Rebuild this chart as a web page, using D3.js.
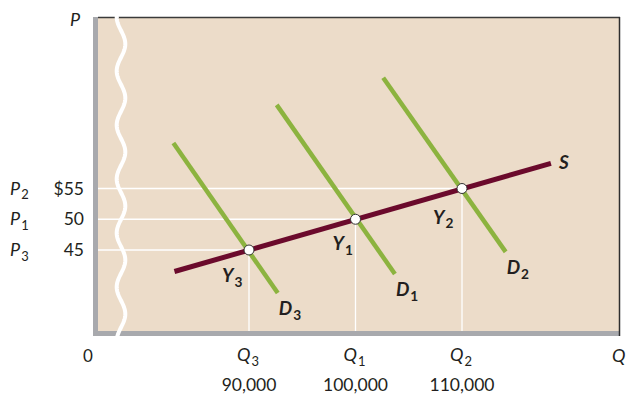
<!DOCTYPE html>
<html><head><meta charset="utf-8">
<script src="https://cdn.jsdelivr.net/npm/d3@7"></script>
<style>body{margin:0;background:#fff;}svg{display:block;font-family:Lato,"Open Sans",sans-serif;}</style>
</head><body><svg id="c" width="626" height="396"></svg>
<script>
// Equilibrium points
const eqNames = ["Y3","Y1","Y2"];
const eqQ = [90000, 100000, 110000];
const eqP = [45, 50, 55];
const qLabels = ["Q3","Q1","Q2"];
const qTickText = ["90,000","100,000","110,000"];
const pLabels = ["P3","P1","P2"];
const pTickText = ["45","50","$55"];
// Supply curve endpoints [Q, P]
const supplyQ = [83000, 118350];
const supplyP = [41.5, 59.1];
// Demand curves endpoints
const demandNames = ["D3","D1","D2"];
const demandQ = [[82900, 92700],[92600, 103700],[102600, 114100]];
const demandP = [[62.4, 38.0],[68.6, 41.1],[73.0, 44.7]];

const svg = d3.select("#c");
const L = 98, R = 620, T = 17, B = 331;
const x = d3.scaleLinear().domain([90000,110000]).range([249,462]);
const y = d3.scaleLinear().domain([45,55]).range([250,188.5]);

// panel
svg.append("rect").attr("x",L).attr("y",T).attr("width",R-L).attr("height",B-T).attr("fill","#ecdcc9");
svg.append("rect").attr("x",93).attr("y",T).attr("width",5).attr("height",B-T+5).attr("fill","#a8a9ad");
svg.append("rect").attr("x",93).attr("y",B).attr("width",R-93).attr("height",5).attr("fill","#a8a9ad");
svg.append("line").attr("x1",L).attr("x2",R).attr("y1",T+0.5).attr("y2",T+0.5).attr("stroke","#3a3a3a").attr("stroke-width",1.3);
svg.append("line").attr("x1",R-0.5).attr("x2",R-0.5).attr("y1",T).attr("y2",B+5).attr("stroke","#2e2e2e").attr("stroke-width",1.5);

// gridlines
eqQ.forEach((q,i)=>{
  svg.append("line").attr("x1",L).attr("x2",x(q)).attr("y1",y(eqP[i])).attr("y2",y(eqP[i])).attr("stroke","#fff").attr("stroke-width",1.3);
  svg.append("line").attr("x1",x(q)).attr("x2",x(q)).attr("y1",y(eqP[i])).attr("y2",B).attr("stroke","#fff").attr("stroke-width",1.3);
});

// demand lines
const line = d3.line().x(d=>x(d[0])).y(d=>y(d[1]));
demandQ.forEach((qs,i)=>{
  svg.append("path").attr("d",line(qs.map((q,j)=>[q,demandP[i][j]]))).attr("stroke","#8cb33f").attr("stroke-width",4.5).attr("fill","none");
});
// supply
svg.append("path").attr("d",line(supplyQ.map((q,j)=>[q,supplyP[j]]))).attr("stroke","#6b0a2c").attr("stroke-width",5).attr("fill","none");

// points
eqQ.forEach((q,i)=>{
  svg.append("circle").attr("cx",x(q)).attr("cy",y(eqP[i])).attr("r",5).attr("fill","#fff").attr("stroke","#333").attr("stroke-width",1);
});

// wavy break
const wave = [];
for(let yy=T-2; yy<=B+7; yy+=1){ wave.push([121 - 4.3*Math.cos((yy-T)/27*Math.PI), yy]); }
svg.append("path").attr("d",d3.line()(wave)).attr("stroke","#fff").attr("stroke-width",4).attr("fill","none");

// text helper with subscript
function sub(g, xx, yy, main, s, opts){
  const sz = opts.size||16;
  const t = g.append("text").attr("x",xx).attr("y",yy).attr("font-size",sz)
    .attr("font-style","italic").attr("font-weight",opts.weight||"normal").attr("fill","#231f20")
    .attr("text-anchor",opts.anchor||"start");
  t.append("tspan").text(main);
  if(s) t.append("tspan").attr("font-size",sz*0.72).attr("dy",sz*0.25).attr("dx",1).attr("font-style","normal").text(s);
  return t;
}
// axis labels
sub(svg,70,26,"P",null,{size:18});
sub(svg,612,362,"Q",null,{size:18});
svg.append("text").attr("x",83).attr("y",362).attr("font-size",17).attr("fill","#231f20").text("0");

pLabels.forEach((p,i)=>{
  sub(svg,10,y(eqP[i])+6,p[0],p[1],{size:18});
  svg.append("text").attr("x",84).attr("y",y(eqP[i])+6).attr("text-anchor","end").attr("font-size",17.5).attr("fill","#231f20").text(pTickText[i]);
});
qLabels.forEach((q,i)=>{
  sub(svg,x(eqQ[i])-1,361,q[0],q[1],{size:18,anchor:"middle"});
  svg.append("text").attr("x",x(eqQ[i])).attr("y",391).attr("text-anchor","middle").attr("font-size",17.5).attr("fill","#231f20").text(qTickText[i]);
});

// curve labels (bold italic)
const bo = {size:19, weight:"bold"};
sub(svg,559,169,"S",null,bo);
demandNames.forEach((d,i)=>{
  const e = demandQ[i][1], p = demandP[i][1];
  sub(svg,x(e)+1,y(p)+22,d[0],d[1],bo);
});
const yOff = [[-27,32],[-23,31],[-29,35]];
eqNames.forEach((n,i)=>{
  sub(svg,x(eqQ[i])+yOff[i][0],y(eqP[i])+yOff[i][1],n[0],n[1],bo);
});
</script></body></html>
